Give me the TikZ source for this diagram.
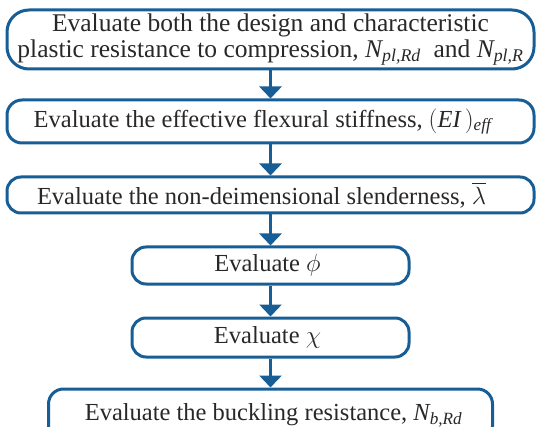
\documentclass[tikz,border=0pt]{standalone}
\usepackage{amsmath}
\usepackage{fontspec}
\setmainfont{Liberation Serif}
\usetikzlibrary{arrows.meta}
\definecolor{bblue}{RGB}{24,94,150}
\definecolor{tgray}{RGB}{40,40,40}
\newcommand{\tv}[1]{\textit{#1}}
\begin{document}
\begin{tikzpicture}[x=1pt,y=-1pt,
  stepbox/.style={draw=bblue, line width=3pt, rounded corners=#1, inner sep=0pt,
    text=tgray, font=\fontsize{24.5}{26}\selectfont, align=center},
  conn/.style={draw=bblue, line width=3pt, -{Triangle[width=22pt,length=12pt]}}]
\useasboundingbox (0,0) rectangle (537,427);
\node[stepbox=22pt, minimum width=527pt, minimum height=59pt, font=\fontsize{25.5}{26}\selectfont] (b1) at (270.5,39.5)
  {Evaluate both the design and characteristic\\plastic resistance to compression, $\tv{N}_{\tv{pl,Rd}}$\ \ and $\tv{N}_{\tv{pl,R}}$};
\node[stepbox=15pt, minimum width=527pt, minimum height=43pt] (b2) at (270.5,121.5)
  {Evaluate the effective flexural stiffness, $(\tv{EI}\,)_{\tv{eff}}$\hspace*{16pt}};
\node[stepbox=14pt, minimum width=527pt, minimum height=36pt] (b3) at (270.5,195)
  {Evaluate the non-deimensional slenderness, $\overline{\lambda}$\hspace*{18pt}};
\node[stepbox=14pt, minimum width=277pt, minimum height=37pt] (b4) at (270.5,265.5)
  {Evaluate $\phi$\hspace*{6pt}};
\node[stepbox=14pt, minimum width=277pt, minimum height=39pt] (b5) at (270.5,337.5)
  {Evaluate\ $\chi$\hspace*{6pt}};
\node[stepbox=15pt, minimum width=444pt, minimum height=52pt] (b6) at (270.5,415)
  {\hspace*{6pt}Evaluate the buckling resistance, $\tv{N}_{\tv{b,Rd}}$};
\draw[conn] (b1.south) -- (b2.north);
\draw[conn] (b2.south) -- (b3.north);
\draw[conn] (b3.south) -- (b4.north);
\draw[conn] (b4.south) -- (b5.north);
\draw[conn] (b5.south) -- (b6.north);
\end{tikzpicture}
\end{document}
